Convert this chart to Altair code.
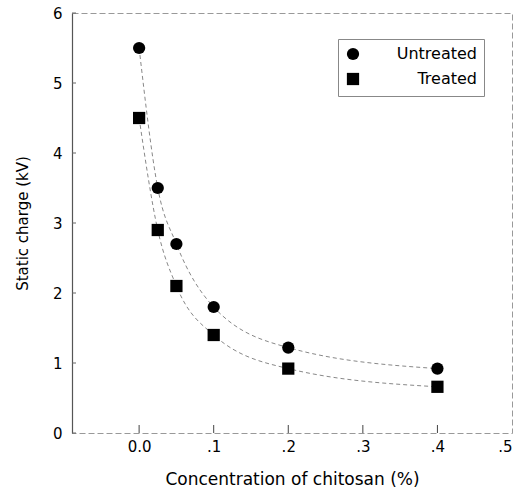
import altair as alt
import pandas as pd

conc = [0.0, 0.025, 0.05, 0.1, 0.2, 0.4]
untreated = [5.5, 3.5, 2.7, 1.8, 1.22, 0.92]
treated = [4.5, 2.9, 2.1, 1.4, 0.92, 0.66]
series_names = ["Untreated", "Treated"]
x_ticks = [0.0, 0.1, 0.2, 0.3, 0.4, 0.5]
y_ticks = [0, 1, 2, 3, 4, 5, 6]

rows = []
for name, vals in zip(series_names, [untreated, treated]):
    for c, v in zip(conc, vals):
        rows.append({"conc": c, "charge": v, "series": name})
df = pd.DataFrame(rows)

FONT = "DejaVu Sans"
W, H = 440, 420

xs = alt.Scale(domain=[-0.09, 0.5], nice=False, zero=False)
ys = alt.Scale(domain=[0, 6], nice=False)

x_axis = alt.Axis(values=x_ticks, labelExpr="datum.value == 0 ? '0.0' : replace(format(datum.value, '.1f'), '0.', '.')",
                  title="Concentration of chitosan (%)", ticks=False, domain=False, grid=False,
                  labelFont=FONT, labelFontSize=15, labelColor="#000", labelPadding=6,
                  titleFont=FONT, titleFontSize=17, titleFontWeight="normal", titleColor="#000", titlePadding=17)
y_axis = alt.Axis(values=y_ticks, format="d", title="Static charge (kV)", ticks=False, grid=False,
                  domain=True, domainColor="#555", domainWidth=1.2,
                  labelFont=FONT, labelFontSize=15, labelColor="#000", labelPadding=10,
                  titleFont=FONT, titleFontSize=15, titleFontWeight="normal", titleColor="#000", titlePadding=22)

lines = alt.Chart(df).mark_line(interpolate="monotone", color="#888", strokeWidth=1, strokeDash=[4, 3]).encode(
    x=alt.X("conc:Q", scale=xs, axis=x_axis),
    y=alt.Y("charge:Q", scale=ys, axis=y_axis),
    detail="series:N",
)

points = alt.Chart(df).mark_point(filled=True, color="black", opacity=1, size=150).encode(
    x=alt.X("conc:Q", scale=xs),
    y=alt.Y("charge:Q", scale=ys),
    shape=alt.Shape("series:N", scale=alt.Scale(domain=series_names, range=["circle", "square"]),
                    legend=alt.Legend(orient="none", legendX=266, legendY=26, title=None,
                                      strokeColor="#888", padding=7, labelFont=FONT, labelFontSize=16,
                                      labelColor="#000", symbolSize=150, symbolFillColor="black",
                                      symbolStrokeColor="black", rowPadding=5, labelAlign="right",
                                      labelOffset=116)),
)

xt = pd.DataFrame({"t": x_ticks[:-1]})
x_tick_marks = alt.Chart(xt).mark_rule(color="#444", strokeWidth=1).encode(
    x=alt.X("t:Q", scale=xs), y=alt.value(H), y2=alt.value(H - 8))

yt = pd.DataFrame({"t": y_ticks})
y_tick_marks = alt.Chart(yt).mark_rule(color="#666", strokeWidth=1).encode(
    y=alt.Y("t:Q", scale=ys), x=alt.value(0), x2=alt.value(4))

chart = alt.layer(lines, x_tick_marks, y_tick_marks, points).properties(
    width=W, height=H,
    autosize=alt.AutoSizeParams(type="none"),
    padding={"left": 72, "top": 13, "right": 14, "bottom": 55},
    background="white",
).configure_view(stroke="#999", strokeDash=[6, 3], strokeWidth=1)

chart.save("out.html", embed_options={"renderer": "svg", "actions": False})
